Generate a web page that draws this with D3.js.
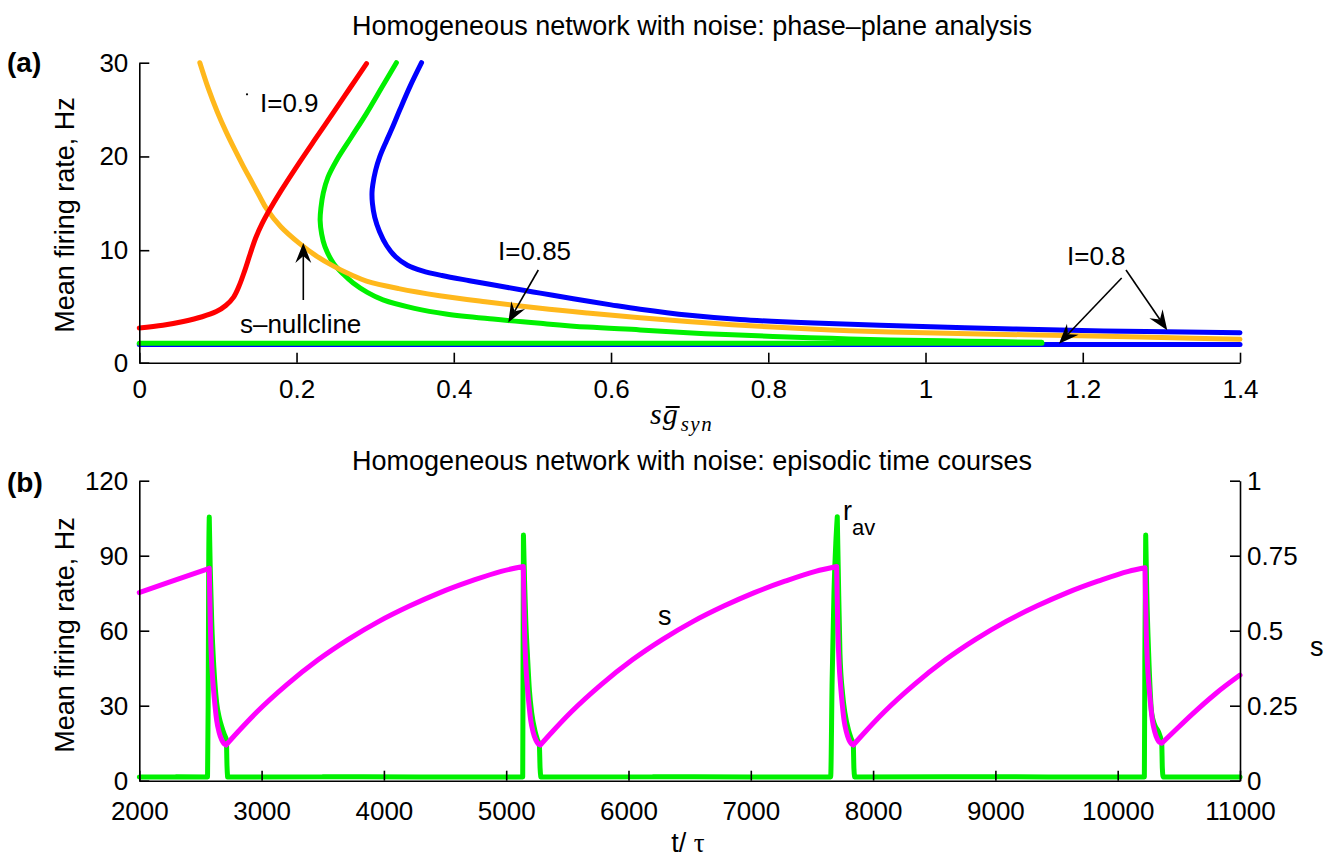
<!DOCTYPE html>
<html>
<head>
<meta charset="utf-8">
<script src="https://cdn.jsdelivr.net/npm/d3@7"></script>
<style>
    body { margin: 0; background: #fff; }
    svg { display: block; font-family: "Liberation Sans", Arial, Helvetica, sans-serif; }
    .axis path, .axis line { stroke: #000; stroke-width: 1.6; }
    .axis text { font-size: 26px; fill: #000; font-family: "Liberation Sans", Arial, sans-serif; }
    .curve { fill: none; stroke-width: 5; stroke-linecap: round; stroke-linejoin: round; }
</style>
</head>
<body>
<script>
// ---------- panel (a): phase plane, x = s*gsyn, y = rate (Hz) ----------
const xTicksA = [0, 0.2, 0.4, 0.6, 0.8, 1, 1.2, 1.4];
const yTicksA = [-2, 10, 20, 30];
const yTickLabelsA = ["0", "10", "20", "30"];

// s-nullcline
const sNullcline = [[0.077, 30], [0.088, 27.2], [0.099, 24.8], [0.11, 22.7], [0.121, 20.8], [0.132, 19.0],
    [0.143, 17.3], [0.153, 15.75], [0.162, 14.4], [0.18, 12.5], [0.204, 10.7], [0.225, 9.4], [0.247, 8.3],
    [0.27, 7.35], [0.289, 6.7], [0.33, 5.9], [0.382, 5.15], [0.44, 4.5], [0.51, 3.8], [0.57, 3.3],
    [0.637, 2.8], [0.72, 2.25], [0.806, 1.8], [0.88, 1.5], [0.955, 1.27], [1.07, 1.07], [1.196, 0.87],
    [1.3, 0.69], [1.4, 0.5]];

// r-nullcline, I = 0.9
const rNullcline09 = [[0, 1.7], [0.03, 2.0], [0.056, 2.4], [0.08, 2.9], [0.098, 3.45], [0.11, 4.1],
    [0.12, 5.0], [0.127, 6.2], [0.134, 7.8], [0.141, 9.6], [0.148, 11.3], [0.156, 12.8], [0.165, 14.2],
    [0.18, 16.3], [0.204, 19.4], [0.225, 22.0], [0.247, 24.7], [0.268, 27.3], [0.289, 29.9]];

// r-nullcline, I = 0.85 (upper + middle branch, then lower branch)
const rNullcline085 = [[0.327, 30], [0.308, 27.3], [0.289, 24.6], [0.27, 22.1], [0.251, 19.6], [0.24, 17.8],
    [0.234, 16.1], [0.231, 14.5], [0.23, 13.2], [0.232, 11.7], [0.236, 10.4], [0.247, 8.6], [0.26, 7.4],
    [0.272, 6.5], [0.29, 5.5], [0.31, 4.7], [0.35, 3.8], [0.39, 3.2], [0.45, 2.65], [0.51, 2.2],
    [0.57, 1.8], [0.637, 1.5], [0.72, 1.1], [0.806, 0.8], [0.88, 0.6], [0.955, 0.42], [1.05, 0.3],
    [1.148, 0.18]];
const rNullcline085Low = [[0, 0.07], [1.148, 0.07]];

// r-nullcline, I = 0.8
const rNullcline08 = [[0.359, 30], [0.3445, 27.5], [0.3315, 25], [0.3215, 23], [0.3135, 21.5], [0.306, 20],
    [0.3005, 18.5], [0.297, 17], [0.296, 16.2], [0.2965, 15], [0.2995, 13.5], [0.3055, 12], [0.3145, 10.5],
    [0.326, 9.3], [0.341, 8.4], [0.36, 7.8], [0.385, 7.3], [0.42, 6.75], [0.467, 6.05], [0.51, 5.42],
    [0.552, 4.82], [0.6, 4.17], [0.637, 3.7], [0.7, 3.05], [0.764, 2.6], [0.85, 2.25], [0.942, 2.0],
    [1.05, 1.73], [1.171, 1.48], [1.28, 1.32], [1.4, 1.2]];
const rNullcline08Low = [[0, -0.05], [1.4, -0.05]];

// annotations (data coordinates)
const labelsA = [
    { text: "I=0.9", x: 0.1535, y: 24.74 },
    { text: "s\u2013nullcline", x: 0.128, y: 1.17 },
    { text: "I=0.85", x: 0.4563, y: 8.95 },
    { text: "I=0.8", x: 1.18, y: 8.42 }
];
const arrowsA = [
    { x1: 0.2086, y1: 4.69, x2: 0.2086, y2: 10.77 },
    { x1: 0.5075, y1: 7.89, x2: 0.4693, y2: 2.29 },
    { x1: 1.2495, y1: 7.03, x2: 1.1697, y2: 0.03 },
    { x1: 1.255, y1: 7.89, x2: 1.3075, y2: 1.46 }
];

// ---------- panel (b): time courses ----------
const xTicksB = [2000, 3000, 4000, 5000, 6000, 7000, 8000, 9000, 10000, 11000];
const yTicksB = [0, 30, 60, 90, 120];
const sTicksB = [0, 0.25, 0.5, 0.75, 1];

// r_av (Hz)
const rTime = [2000, 2300, 2558, 2563, 2568, 2572, 2580, 2592, 2610, 2633, 2655, 2674, 2695, 2712, 2717, 2722,
    3500, 4300, 5135, 5138, 5141, 5150, 5160, 5173, 5190, 5209, 5235, 5255, 5271, 5277, 5283,
    6200, 7000, 7653, 7665, 7680, 7695, 7707, 7715, 7729, 7750, 7770, 7800, 7820, 7838, 7843, 7849,
    8600, 9500, 10218, 10222, 10229, 10238, 10253, 10278, 10305, 10333, 10360, 10365, 10372, 11000];
const rValue = [1.5, 1.6, 1.5, 30, 90, 105.5, 85, 64, 45, 31, 25, 21.6, 18.5, 16.3, 6, 1.5,
    1.6, 1.5, 1.5, 50, 98.3, 80, 64, 51, 36, 27, 20, 16.5, 14.3, 5, 1.5,
    1.6, 1.5, 1.5, 40, 75, 95, 105.6, 85, 51, 35, 27, 20, 17, 14.3, 5, 1.5,
    1.6, 1.5, 1.5, 50, 98.3, 75, 51, 27, 22, 19.6, 15, 5, 1.5, 1.5];

// s (right axis)
const sTime = [2000, 2286, 2572, 2576, 2582, 2592, 2605, 2619, 2633, 2652, 2674, 2692, 2709,
    2809, 2959, 3209, 3459, 3709, 3959, 4209, 4459, 4709, 4959, 5140,
    5144, 5150, 5160, 5173, 5187, 5201, 5220, 5242, 5260, 5279,
    5379, 5529, 5779, 6029, 6279, 6529, 6779, 7029, 7279, 7529, 7702,
    7706, 7712, 7722, 7735, 7749, 7763, 7782, 7803, 7821, 7838,
    7938, 8088, 8338, 8588, 8838, 9088, 9338, 9588, 9838, 10088, 10223,
    10227, 10233, 10243, 10256, 10270, 10284, 10303, 10325, 10343, 10360,
    10460, 10610, 10800, 11000];
const sValue = [0.627, 0.668, 0.708, 0.62, 0.5, 0.39, 0.313, 0.25, 0.2, 0.162, 0.136, 0.124, 0.119,
    0.164, 0.228, 0.321, 0.402, 0.471, 0.531, 0.582, 0.627, 0.665, 0.698, 0.714,
    0.62, 0.5, 0.39, 0.313, 0.25, 0.2, 0.162, 0.136, 0.124, 0.119,
    0.164, 0.228, 0.321, 0.402, 0.471, 0.531, 0.582, 0.627, 0.665, 0.698, 0.714,
    0.62, 0.5, 0.39, 0.313, 0.25, 0.2, 0.162, 0.136, 0.124, 0.119,
    0.164, 0.228, 0.321, 0.402, 0.471, 0.531, 0.582, 0.627, 0.665, 0.698, 0.71,
    0.62, 0.5, 0.39, 0.313, 0.25, 0.2, 0.163, 0.138, 0.128, 0.125,
    0.164, 0.222, 0.29, 0.352];

const width = 1325, height = 858;
const left = 139.3, right = 1240;

const svg = d3.select("body").append("svg")
    .attr("width", width)
    .attr("height", height);

// ---------- panel (a) ----------
const xA = d3.scaleLinear().domain([0, 1.4]).range([left, right]);
const yA = d3.scaleLinear().domain([-2, 30]).range([362.7, 62.7]);

const lineA = d3.line()
    .x(function (d) { return xA(d[0]); })
    .y(function (d) { return yA(d[1]); })
    .curve(d3.curveCatmullRom.alpha(0.5));

const gA = svg.append("g");

const curvesA = [
    { data: rNullcline08Low, color: "#0000ff" },
    { data: rNullcline08, color: "#0000ff" },
    { data: rNullcline085, color: "#00f000" },
    { data: rNullcline085Low, color: "#00f000" },
    { data: sNullcline, color: "#ffb81c" },
    { data: rNullcline09, color: "#ff0000" }
];
curvesA.forEach(function (c) {
    gA.append("path")
        .attr("class", "curve")
        .attr("d", lineA(c.data))
        .attr("stroke", c.color);
});

gA.append("g")
    .attr("class", "axis")
    .attr("transform", "translate(0,362.7)")
    .call(d3.axisBottom(xA).tickValues(xTicksA).tickSizeInner(-10).tickSizeOuter(0).tickPadding(17)
        .tickFormat(d3.format("~g")));
gA.append("g")
    .attr("class", "axis")
    .attr("transform", "translate(" + left + ",0)")
    .call(d3.axisLeft(yA).tickValues(yTicksA).tickSizeInner(-10).tickSizeOuter(0).tickPadding(11)
        .tickFormat(function (d, i) { return yTickLabelsA[i]; }));

gA.selectAll("text.note")
    .data(labelsA)
    .enter().append("text")
    .attr("class", "note")
    .attr("x", function (d) { return xA(d.x); })
    .attr("y", function (d) { return yA(d.y); })
    .attr("font-size", 26)
    .text(function (d) { return d.text; });

// the stray dot next to I=0.9
gA.append("circle")
    .attr("cx", xA(0.137)).attr("cy", yA(26.63)).attr("r", 1.1).attr("fill", "#000");

function drawArrow(g, x1, y1, x2, y2) {
    const dx = x2 - x1, dy = y2 - y1;
    const len = Math.hypot(dx, dy);
    const ux = dx / len, uy = dy / len, nx = -uy, ny = ux;
    const headL = 20, headW = 8, notch = 13;
    g.append("line")
        .attr("x1", x1).attr("y1", y1)
        .attr("x2", x2 - ux * notch).attr("y2", y2 - uy * notch)
        .attr("stroke", "#000").attr("stroke-width", 1.6);
    const bx = x2 - ux * headL, by = y2 - uy * headL;
    const pts = [
        [x2, y2],
        [bx + nx * headW, by + ny * headW],
        [x2 - ux * notch, y2 - uy * notch],
        [bx - nx * headW, by - ny * headW]
    ];
    g.append("path").attr("d", "M" + pts.join("L") + "Z").attr("fill", "#000");
}
arrowsA.forEach(function (a) {
    drawArrow(gA, xA(a.x1), yA(a.y1), xA(a.x2), yA(a.y2));
});

// titles, labels
svg.append("text")
    .attr("x", 692).attr("y", 35)
    .attr("text-anchor", "middle").attr("font-size", 27)
    .text("Homogeneous network with noise: phase\u2013plane analysis");
svg.append("text")
    .attr("x", 7).attr("y", 72)
    .attr("font-size", 28).attr("font-weight", "bold")
    .text("(a)");
svg.append("text")
    .attr("transform", "translate(74,215) rotate(-90)")
    .attr("text-anchor", "middle").attr("font-size", 27)
    .text("Mean firing rate, Hz");

const xLabA = svg.append("text")
    .attr("x", 650).attr("y", 424)
    .attr("font-family", "'Liberation Serif', 'Times New Roman', serif")
    .attr("font-style", "italic")
    .attr("font-size", 30);
xLabA.append("tspan").text("s");
xLabA.append("tspan").attr("dx", 1).text("g");
xLabA.append("tspan").attr("dy", 7).attr("dx", 3).attr("font-size", 21).attr("letter-spacing", 1.5).text("syn");
// bar over the g
const gBox = xLabA.node().getExtentOfChar(1);
svg.append("line")
    .attr("x1", gBox.x + 3).attr("x2", gBox.x + gBox.width + 2)
    .attr("y1", 407).attr("y2", 407)
    .attr("stroke", "#000").attr("stroke-width", 2);

// ---------- panel (b) ----------
const xB = d3.scaleLinear().domain([2000, 11000]).range([left, right]);
const yB = d3.scaleLinear().domain([0, 120]).range([780.7, 480.7]);
const yS = d3.scaleLinear().domain([0, 1]).range([780.7, 480.7]);

// cut a series at every turning point so the peaks and troughs stay sharp
function splitAtTurns(xs, ys) {
    const segs = [];
    let cur = [[xs[0], ys[0]]];
    for (let i = 1; i < xs.length; i++) {
        cur.push([xs[i], ys[i]]);
        if (i < xs.length - 1 && (ys[i] - ys[i - 1]) * (ys[i + 1] - ys[i]) < 0) {
            segs.push(cur);
            cur = [[xs[i], ys[i]]];
        }
    }
    segs.push(cur);
    return segs;
}

const gB = svg.append("g");

const rLine = d3.line()
    .x(function (d) { return xB(d[0]); })
    .y(function (d) { return yB(d[1]); })
    .curve(d3.curveMonotoneX);
const sLine = d3.line()
    .x(function (d) { return xB(d[0]); })
    .y(function (d) { return yS(d[1]); })
    .curve(d3.curveMonotoneX);

gB.append("path").attr("class", "curve")
    .attr("d", splitAtTurns(rTime, rValue).map(function (s) { return rLine(s); }).join(""))
    .attr("stroke", "#00f000");
gB.append("path").attr("class", "curve")
    .attr("d", splitAtTurns(sTime, sValue).map(function (s) { return sLine(s); }).join(""))
    .attr("stroke", "#ff00ff");

gB.append("g")
    .attr("class", "axis")
    .attr("transform", "translate(0,780.7)")
    .call(d3.axisBottom(xB).tickValues(xTicksB).tickSizeInner(-10).tickSizeOuter(0).tickPadding(21)
        .tickFormat(d3.format("d")));
gB.append("g")
    .attr("class", "axis")
    .attr("transform", "translate(" + left + ",0)")
    .call(d3.axisLeft(yB).tickValues(yTicksB).tickSizeInner(-10).tickSizeOuter(0).tickPadding(11));
gB.append("g")
    .attr("class", "axis")
    .attr("transform", "translate(" + right + ",0)")
    .call(d3.axisRight(yS).tickValues(sTicksB).tickSizeInner(-10).tickSizeOuter(0).tickPadding(7)
        .tickFormat(d3.format("~g")));

svg.append("text")
    .attr("x", 692).attr("y", 470)
    .attr("text-anchor", "middle").attr("font-size", 27)
    .text("Homogeneous network with noise: episodic time courses");
svg.append("text")
    .attr("x", 7).attr("y", 492)
    .attr("font-size", 28).attr("font-weight", "bold")
    .text("(b)");
svg.append("text")
    .attr("transform", "translate(74,635) rotate(-90)")
    .attr("text-anchor", "middle").attr("font-size", 27)
    .text("Mean firing rate, Hz");
svg.append("text")
    .attr("x", 1310).attr("y", 656)
    .attr("font-size", 27)
    .text("s");

const rLab = gB.append("text")
    .attr("x", xB(7754)).attr("y", yB(104.3))
    .attr("font-size", 27);
rLab.append("tspan").text("r");
rLab.append("tspan").attr("dy", 15).attr("font-size", 22).text("av");

gB.append("text")
    .attr("x", xB(6241)).attr("y", yB(62.3))
    .attr("font-size", 27)
    .text("s");

const xLabB = svg.append("text")
    .attr("x", 688).attr("y", 852)
    .attr("text-anchor", "middle")
    .attr("font-size", 27);
xLabB.append("tspan").text("t/ ");
xLabB.append("tspan").attr("font-family", "'Liberation Serif', serif").text("\u03c4");
</script>
</body>
</html>
